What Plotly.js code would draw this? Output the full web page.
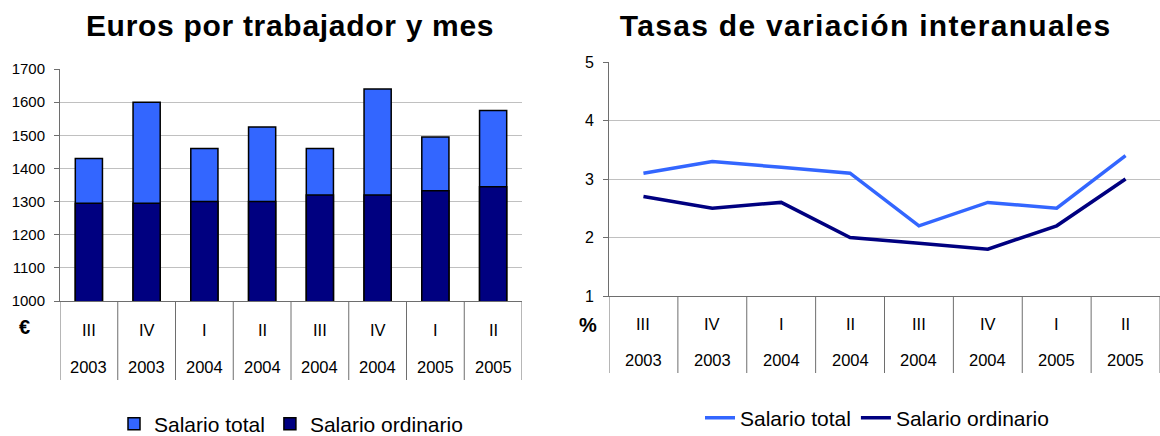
<!DOCTYPE html>
<html><head><meta charset="utf-8">
<script src="https://cdn.plot.ly/plotly-3.0.1.min.js"></script>
<style>html,body{margin:0;padding:0;background:#fff}#chart{width:1160px;height:436px}</style>
</head><body><div id="chart"></div>
<script>
const quarters = ['III','IV','I','II','III','IV','I','II'];
const years = ['2003','2003','2004','2004','2004','2004','2005','2005'];
const salarioTotal = [1430,1600,1460,1525,1460,1640,1495,1575];
const salarioOrdinario = [1295,1295,1300,1300,1320,1320,1333,1345];
const tasaTotal = [3.1,3.3,3.2,3.1,2.2,2.6,2.5,3.4];
const tasaOrdinario = [2.7,2.5,2.6,2.0,1.9,1.8,2.2,3.0];
const yTicksLeft = [1000,1100,1200,1300,1400,1500,1600,1700];
const yTicksRight = [1,2,3,4,5];
const titleLeft = 'Euros por trabajador y mes';
const titleRight = 'Tasas de variación interanuales';
const seriesNames = ['Salario total','Salario ordinario'];

const W = 1160, H = 436;
const FONT = '"Liberation Sans", Arial, sans-serif';
const cats = quarters.map((q,i)=>q+' '+years[i]);
const LIGHT = '#3366ff', DARK = '#000080';
const AX = '#6e6e6e', GRID = '#c0c0c0';
const py = v => 1 - v/H;

const traces = [
  {type:'bar', x:cats, y:salarioTotal, name:seriesNames[0], xaxis:'x', yaxis:'y',
   width:0.47, marker:{color:LIGHT, line:{color:'#000', width:1.5}}, legend:'legend'},
  {type:'bar', x:cats, y:salarioOrdinario, name:seriesNames[1], xaxis:'x', yaxis:'y',
   width:0.47, marker:{color:DARK, line:{color:'#000', width:1.5}}, legend:'legend'},
  {type:'scatter', mode:'lines', x:cats, y:tasaTotal, name:seriesNames[0], xaxis:'x2', yaxis:'y2',
   line:{color:LIGHT, width:3.5}, legend:'legend2'},
  {type:'scatter', mode:'lines', x:cats, y:tasaOrdinario, name:seriesNames[1], xaxis:'x2', yaxis:'y2',
   line:{color:DARK, width:3.5}, legend:'legend2'}
];

const panels = [
  {xa:'x', left:60, right:522, top:69, bottom:301, divEnd:380, qY:330, yY:367, unit:'€', unitX:24, unitY:327},
  {xa:'x2', left:609, right:1160, top:62, bottom:296, divEnd:373, qY:324, yY:360, unit:'%', unitX:588, unitY:325}
];

const shapes = [], annotations = [];
panels.forEach(p => {
  for (let i = 0; i <= cats.length; i++) {
    shapes.push({type:'line', xref:p.xa, yref:'paper', x0:i-0.5, x1:i-0.5, y0:py(p.bottom), y1:py(p.divEnd),
      line:{color:AX, width:1}});
  }
  cats.forEach((c,i) => {
    annotations.push({xref:p.xa, yref:'paper', x:i, y:py(p.qY), text:quarters[i], showarrow:false,
      yanchor:'middle', font:{family:FONT, size:16.5, color:'#000'}});
    annotations.push({xref:p.xa, yref:'paper', x:i, y:py(p.yY), text:years[i], showarrow:false,
      yanchor:'middle', font:{family:FONT, size:16.5, color:'#000'}});
  });
  annotations.push({xref:'paper', yref:'paper', x:p.unitX/W, y:py(p.unitY), text:'<b>'+p.unit+'</b>',
    showarrow:false, xanchor:'center', yanchor:'middle', font:{family:FONT, size:20, color:'#000'}});
});
annotations.push({xref:'paper', yref:'paper', x:290/W, y:py(25), text:'<b>'+titleLeft+'</b>', showarrow:false,
  xanchor:'center', yanchor:'middle', font:{family:FONT, size:30, color:'#000'}});
annotations.push({xref:'paper', yref:'paper', x:865/W, y:py(25), text:'<b>'+titleRight+'</b>', showarrow:false,
  xanchor:'center', yanchor:'middle', font:{family:FONT, size:30, color:'#000'}});

const xCommon = {type:'category', categoryarray:cats, range:[-0.5,7.5], showticklabels:false, ticks:'',
  showgrid:false, showline:true, linecolor:AX, linewidth:1, zeroline:false, fixedrange:true};
const yCommon = {showgrid:true, gridcolor:GRID, gridwidth:1, showline:true, linecolor:AX, linewidth:1,
  ticks:'outside', ticklen:5, tickcolor:AX, zeroline:false, ticklabelstandoff:6,
  tickfont:{family:FONT, size:15, color:'#000'}};

const layout = {
  width:W, height:H, margin:{l:0,r:0,t:0,b:0, autoexpand:false}, paper_bgcolor:'#fff', plot_bgcolor:'#fff',
  barmode:'overlay', showlegend:true, font:{family:FONT, color:'#000'},
  xaxis:Object.assign({}, xCommon, {domain:[60/W, 522/W], anchor:'y'}),
  yaxis:Object.assign({}, yCommon, {domain:[py(301), py(69)], range:[1000,1700], tickvals:yTicksLeft, anchor:'x'}),
  xaxis2:Object.assign({}, xCommon, {domain:[609/W, 1], anchor:'y2'}),
  yaxis2:Object.assign({}, yCommon, {domain:[py(296), py(62)], range:[1,5], tickvals:yTicksRight, anchor:'x2',
     tickfont:{family:FONT, size:16, color:'#000'}}),
  legend:{orientation:'h', x:114/W, y:py(424), xanchor:'left', yanchor:'middle', traceorder:'normal',
    font:{family:FONT, size:21, color:'#000'}, bgcolor:'rgba(0,0,0,0)', itemwidth:30},
  legend2:{orientation:'h', x:700/W, y:py(418), xanchor:'left', yanchor:'middle', traceorder:'normal',
    font:{family:FONT, size:21, color:'#000'}, bgcolor:'rgba(0,0,0,0)', itemwidth:30},
  shapes:shapes, annotations:annotations
};

Plotly.newPlot('chart', traces, layout, {displayModeBar:false, staticPlot:true}).then(gd => {
  document.querySelectorAll('.annotation-text').forEach(t => {
    const s = t.textContent;
    if (s === titleLeft) t.style.letterSpacing = '0.7px';
    if (s === titleRight) t.style.letterSpacing = '1.3px';
  });
});
</script></body></html>
